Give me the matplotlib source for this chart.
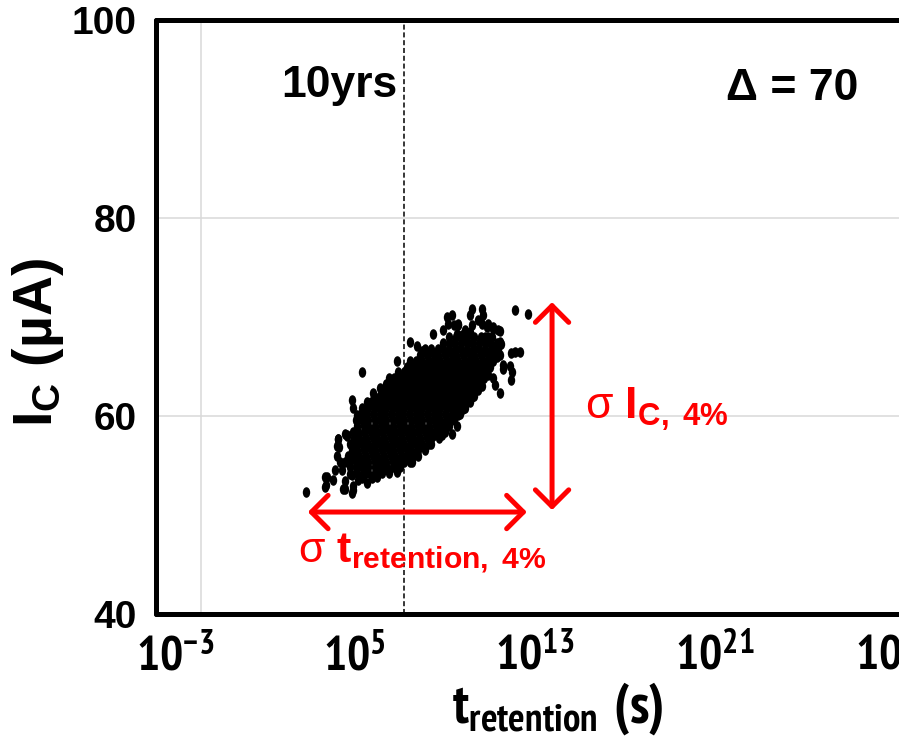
import numpy as np
import matplotlib
matplotlib.use("Agg")
import matplotlib.pyplot as plt
from matplotlib import font_manager
from matplotlib.path import Path
from matplotlib.transforms import Affine2D
from matplotlib.ticker import NullLocator

# ---- data ---------------------------------------------------------------
# dense core of the cloud, one list of log10(t_retention / s) per I_C row (uA)
row_ic = [68.0, 67.4, 66.8, 66.2, 65.6, 65.0, 64.4, 63.8, 63.2, 62.6, 62.0, 61.4,
          60.8, 60.2, 59.6, 59.0, 58.4, 57.8, 57.2, 56.6, 56.0, 55.4, 54.8, 54.2]
row_logt = [
    [9.2, 9.5, 9.8, 10.0, 10.3, 10.6, 10.8, 11.1],
    [8.9, 9.2, 9.4, 9.7, 10.0, 10.2, 10.5, 10.8, 11.0, 11.3],
    [8.1, 8.4, 8.7, 8.9, 9.2, 9.5, 9.7, 10.0, 10.3, 10.5, 10.8, 11.1, 11.35],
    [7.9, 8.2, 8.5, 8.7, 9.0, 9.3, 9.5, 9.8, 10.1, 10.3, 10.6, 10.9, 11.2],
    [7.45, 7.7, 8.0, 8.3, 8.5, 8.8, 9.1, 9.3, 9.6, 9.9, 10.1, 10.4, 10.7, 10.9, 11.15],
    [7.3, 7.6, 7.9, 8.1, 8.4, 8.7, 8.9, 9.2, 9.5, 9.7, 10.0, 10.3, 10.5, 10.8, 11.0],
    [6.9, 7.2, 7.5, 7.7, 8.0, 8.3, 8.5, 8.8, 9.1, 9.3, 9.6, 9.9, 10.1, 10.4, 10.7, 10.85],
    [6.75, 7.0, 7.3, 7.6, 7.8, 8.1, 8.4, 8.6, 8.9, 9.2, 9.4, 9.7, 10.0, 10.2, 10.5, 10.75],
    [6.4, 6.65, 6.9, 7.2, 7.5, 7.7, 8.0, 8.3, 8.5, 8.8, 9.1, 9.3, 9.6, 9.9, 10.1, 10.4, 10.6],
    [6.2, 6.5, 6.8, 7.0, 7.3, 7.6, 7.8, 8.1, 8.4, 8.6, 8.9, 9.2, 9.4, 9.7, 10.0, 10.2, 10.45],
    [5.85, 6.1, 6.4, 6.7, 6.9, 7.2, 7.5, 7.7, 8.0, 8.3, 8.5, 8.8, 9.1, 9.3, 9.6, 9.9, 10.1, 10.3],
    [5.7, 6.0, 6.2, 6.5, 6.8, 7.0, 7.3, 7.6, 7.8, 8.1, 8.4, 8.6, 8.9, 9.2, 9.4, 9.7, 9.95, 10.1],
    [5.3, 5.6, 5.9, 6.1, 6.4, 6.7, 6.9, 7.2, 7.5, 7.7, 8.0, 8.3, 8.5, 8.8, 9.1, 9.3, 9.6, 9.9],
    [5.25, 5.5, 5.8, 6.1, 6.3, 6.6, 6.9, 7.1, 7.4, 7.7, 7.9, 8.2, 8.5, 8.7, 9.0, 9.3, 9.5, 9.65],
    [5.05, 5.3, 5.6, 5.9, 6.1, 6.4, 6.7, 6.9, 7.2, 7.5, 7.7, 8.0, 8.3, 8.5, 8.8, 9.1, 9.4],
    [5.1, 5.4, 5.6, 5.9, 6.2, 6.4, 6.7, 7.0, 7.2, 7.5, 7.8, 8.0, 8.3, 8.6, 8.8, 9.1, 9.2],
    [4.9, 5.15, 5.4, 5.7, 6.0, 6.2, 6.5, 6.8, 7.0, 7.3, 7.6, 7.8, 8.1, 8.4, 8.6, 8.9, 9.0],
    [4.95, 5.2, 5.5, 5.8, 6.0, 6.3, 6.6, 6.8, 7.1, 7.4, 7.6, 7.9, 8.2, 8.4, 8.75],
    [4.8, 5.05, 5.3, 5.6, 5.9, 6.1, 6.4, 6.7, 6.9, 7.2, 7.5, 7.7, 8.0, 8.3, 8.4],
    [4.85, 5.1, 5.4, 5.7, 5.9, 6.2, 6.5, 6.7, 7.0, 7.3, 7.5, 7.8, 8.1],
    [4.7, 4.95, 5.2, 5.5, 5.8, 6.0, 6.3, 6.6, 6.8, 7.1, 7.4, 7.6, 7.8],
    [4.8, 5.1, 5.3, 5.6, 5.9, 6.1, 6.4, 6.7, 6.9, 7.2, 7.45],
    [4.8, 5.05, 5.3, 5.6, 5.9, 6.1, 6.4, 6.7, 7.0],
    [5.1, 5.4, 5.6, 5.9, 6.2, 6.5],
]

# scattered points around the rim of the cloud
edge_logt = [2.82, 3.67, 3.71, 4.04, 4.26, 4.30, 4.48, 4.56, 4.85, 4.93, 4.63, 4.85,
             4.93, 5.30, 5.15, 5.37, 5.74, 5.99, 6.41, 6.85, 6.88, 7.52, 7.59, 7.96,
             8.33, 8.45, 8.85, 9.30, 9.52, 9.81, 10.19, 10.63, 11.15, 11.44, 11.59, 11.89,
             11.92, 11.92, 12.33, 12.11, 11.48, 11.44, 11.15, 10.93, 10.68, 12.11, 12.70, 10.19,
             10.63, 10.11, 9.30, 9.08, 9.40, 9.59, 8.48, 10.19, 9.74, 7.44, 7.74, 7.96,
             6.85, 6.53, 6.11, 5.81, 5.52, 5.07, 4.56, 4.19, 4.33, 4.41, 4.85, 7.30,
             8.91, 9.22, 9.58, 11.0, 11.30, 9.13, 8.91, 9.58, 9.53, 9.89, 10.64, 10.87,
             11.13, 11.36, 11.44, 11.22, 10.47, 10.11, 10.91, 11.58, 10.91, 11.22, 10.47, 11.98,
             11.44, 3.76, 3.67, 4.11, 4.19, 4.24, 4.56, 4.63, 4.78, 4.56, 4.91, 5.0,
             5.30, 5.52, 5.96, 6.33, 6.85]
edge_ic = [52.3, 53.8, 53.0, 53.5, 57.7, 56.9, 52.6, 53.4, 52.2, 52.9, 58.0, 61.6,
           60.8, 64.4, 53.5, 53.8, 53.7, 54.0, 54.7, 55.0, 54.3, 55.4, 56.1, 57.0,
           57.4, 58.0, 58.1, 58.2, 59.0, 60.7, 61.9, 63.0, 63.8, 62.3, 64.7, 65.1,
           63.6, 66.4, 66.5, 66.5, 67.3, 68.6, 69.0, 69.3, 70.2, 70.7, 70.3, 70.8,
           70.8, 70.2, 70.2, 70.0, 69.2, 69.2, 68.3, 69.2, 68.2, 67.5, 67.1, 66.6,
           65.6, 63.8, 62.8, 62.3, 61.4, 60.1, 58.2, 56.0, 55.4, 54.5, 54.0, 55.9,
           59.1, 59.7, 60.1, 65.5, 66.0, 69.3, 68.7, 69.3, 68.3, 68.7, 69.3, 69.0,
           68.8, 68.7, 67.5, 67.0, 69.7, 68.5, 68.0, 65.2, 64.1, 63.1, 63.1, 64.4,
           66.2, 53.8, 52.8, 54.5, 57.0, 57.7, 55.4, 58.1, 54.1, 52.6, 52.5, 58.2,
           53.7, 53.2, 53.8, 54.6, 55.1]

ten_years_logt = 7.18          # dashed "10yrs" marker as drawn
grid_x_logt = -1.84            # the lone vertical grid line
t_span_logt = (2.91, 12.64)    # horizontal red arrow
ic_span = (50.5, 71.5)         # vertical red arrow
arrow_ic = 50.3
arrow_logt = 13.76

xtick_exp = [-3, 5, 13, 21, 29]
ytick_vals = [40, 60, 80, 100]


def p10(e):
    return 10.0 ** e


# ---- fonts ---------------------------------------------------------------
# the axis-x texts use a narrow bold face when one is installed
narrow_spec, tick_size, label_size = "Liberation Sans:bold", 27, 32
for f in font_manager.fontManager.ttflist:
    bold = f.weight in ("bold", 700, "700")
    if bold and ("Narrow" in f.name):
        narrow_spec, tick_size, label_size = f.name + ":bold", 35, 40
        break
    if bold and f.stretch in ("condensed", "semi-condensed") and "Sans" in f.name \
            and "Mono" not in f.name:
        narrow_spec, tick_size, label_size = f.name + ":bold:" + f.stretch, 35, 40

plt.rcParams["font.family"] = ["Liberation Sans", "DejaVu Sans"]
plt.rcParams["mathtext.fontset"] = "custom"
plt.rcParams["mathtext.rm"] = "Liberation Sans"
plt.rcParams["mathtext.it"] = "Liberation Sans:italic"
plt.rcParams["mathtext.bf"] = "Liberation Sans:bold"
plt.rcParams["mathtext.sf"] = narrow_spec

# ---- figure --------------------------------------------------------------
W, H = 899, 737
fig = plt.figure(figsize=(W / 100, H / 100), dpi=100)
ax = fig.add_axes([156 / W, (H - 614) / H, (940 - 156) / W, (614 - 20) / H])

logt = np.concatenate([np.array(r) for r in row_logt] + [np.array(edge_logt)])
ic = np.concatenate([np.full(len(r), v) for r, v in zip(row_logt, row_ic)] + [np.array(edge_ic)])

ellipse = Path.unit_circle().transformed(Affine2D().scale(0.7, 1.0))
ax.scatter(p10(logt), ic, marker=ellipse, s=58, c="black", linewidths=0, zorder=3)

ax.set_xscale("log")
ax.set_xlim(p10(-3.84), p10(31))
ax.set_ylim(40, 100)

ax.set_xticks([p10(e) for e in xtick_exp])
ax.set_xticklabels([r"$\mathsf{10^{%d}}$" % e for e in xtick_exp])
ax.xaxis.set_minor_locator(NullLocator())
ax.set_yticks(ytick_vals)
ax.set_yticklabels([str(v) for v in ytick_vals], fontweight="bold")
ax.tick_params(axis="x", length=0, pad=14, labelsize=tick_size)
ax.tick_params(axis="y", length=0, pad=14, labelsize=28)

ax.yaxis.grid(True, color="#D9D9D9", lw=1.1)
ax.set_axisbelow(True)
ax.axvline(p10(grid_x_logt), color="#D9D9D9", lw=1.1, zorder=0)
ax.axvline(p10(ten_years_logt), color="black", lw=1.1, ls=(0, (3.3, 1.8)), zorder=2)

for s in ax.spines.values():
    s.set_linewidth(3.6)
    s.set_capstyle("round")
    s.set_joinstyle("round")

ax.text(p10(6.9), 92.2, "10yrs", fontsize=32, fontweight="bold", ha="right", va="baseline")
ax.text(p10(27.36), 91.9, "Δ = 70", fontsize=32, fontweight="bold", ha="right", va="baseline")

arrow_kw = dict(arrowstyle="<->,head_length=1.0,head_width=1.0", color="red", lw=3.6,
                mutation_scale=12, shrinkA=0, shrinkB=0, capstyle="round", joinstyle="round")
ax.annotate("", xy=(p10(t_span_logt[1]), arrow_ic), xytext=(p10(t_span_logt[0]), arrow_ic),
            arrowprops=arrow_kw)
ax.annotate("", xy=(p10(arrow_logt), ic_span[1]), xytext=(p10(arrow_logt), ic_span[0]),
            arrowprops=arrow_kw)

ax.text(p10(15.22), 59.7, r"σ $\mathbf{I}_{\mathbf{C,\ 4\%}}$", color="red", fontsize=32,
        ha="left", va="baseline")
ax.text(p10(2.47), 45.25, r"σ $\mathbf{t}_{\mathbf{retention,\ 4\%}}$", color="red",
        fontsize=31, ha="left", va="baseline", clip_on=False)

fig.text(558 / W, 1 - 723 / H, r"$\mathsf{t_{retention}\ (s)}$", fontsize=label_size,
         ha="center", va="baseline")
fig.text(38 / W, 1 - 342 / H, r"$\mathbf{I_{C}}$ (µA)", fontsize=40, fontweight="bold",
         rotation=90, ha="center", va="center")

fig.savefig("out.png", dpi=100)
